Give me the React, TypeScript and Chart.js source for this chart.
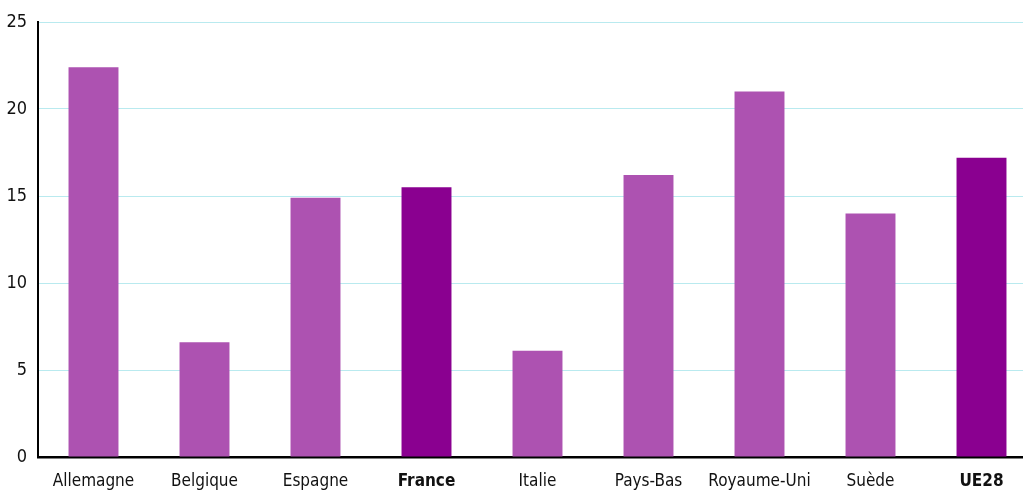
import React, { useEffect, useRef } from "react";
import { Chart, registerables } from "chart.js";

Chart.register(...registerables);

const categories = ["Allemagne", "Belgique", "Espagne", "France", "Italie", "Pays-Bas", "Royaume-Uni", "Suède", "UE28"];
const values = [22.4, 6.6, 14.9, 15.5, 6.1, 16.2, 21.0, 14.0, 17.2];
const highlighted = ["France", "UE28"];
const yTicks = [0, 5, 10, 15, 20, 25];

const LIGHT = "#ad52b1";
const DARK = "#8a0090";
const FONT = "'Liberation Sans Narrow', 'DejaVu Sans Condensed', 'Arial Narrow', sans-serif";

export default function App() {
  const ref = useRef<HTMLCanvasElement | null>(null);

  useEffect(() => {
    document.documentElement.style.overflow = "hidden";
    document.body.style.overflow = "hidden";
    const ctx = ref.current!;
    const chart = new Chart(ctx, {
      type: "bar",
      data: {
        labels: categories,
        datasets: [
          {
            data: values,
            backgroundColor: categories.map((c) => (highlighted.includes(c) ? DARK : LIGHT)),
            borderWidth: 0,
            categoryPercentage: 1,
            barPercentage: 0.45,
          },
        ],
      },
      options: {
        animation: false,
        responsive: false,
        maintainAspectRatio: false,
        layout: { padding: { top: 22, left: 0, right: 0, bottom: 0 } },
        plugins: { legend: { display: false }, tooltip: { enabled: false } },
        scales: {
          x: {
            grid: { display: false, drawTicks: false },
            border: { display: true, color: "#000", width: 2.5 },
            ticks: {
              color: "#111",
              padding: 14,
              maxRotation: 0,
              autoSkip: false,
              font: (c: any) => ({
                family: FONT,
                size: 17,
                weight: highlighted.includes(categories[c.index]) ? "bold" : "normal",
              }),
            },
            afterFit: (s: any) => {
              s.height = 33;
            },
          },
          y: {
            min: 0,
            max: 25,
            afterBuildTicks: (s: any) => {
              s.ticks = yTicks.map((v) => ({ value: v }));
            },
            grid: { color: "#b9eaef", lineWidth: 1, drawTicks: false },
            border: { display: true, color: "#000", width: 2 },
            ticks: {
              color: "#111",
              padding: 11,
              font: { family: FONT, size: 18 },
            },
            afterFit: (s: any) => {
              s.width = 38;
            },
          },
        },
      },
    });
    return () => chart.destroy();
  }, []);

  return (
    <div style={{ position: "absolute", left: 0, top: 0, width: 1037, height: 490 }}>
      <canvas ref={ref} width={1037} height={490} style={{ width: 1037, height: 490 }} />
    </div>
  );
}
